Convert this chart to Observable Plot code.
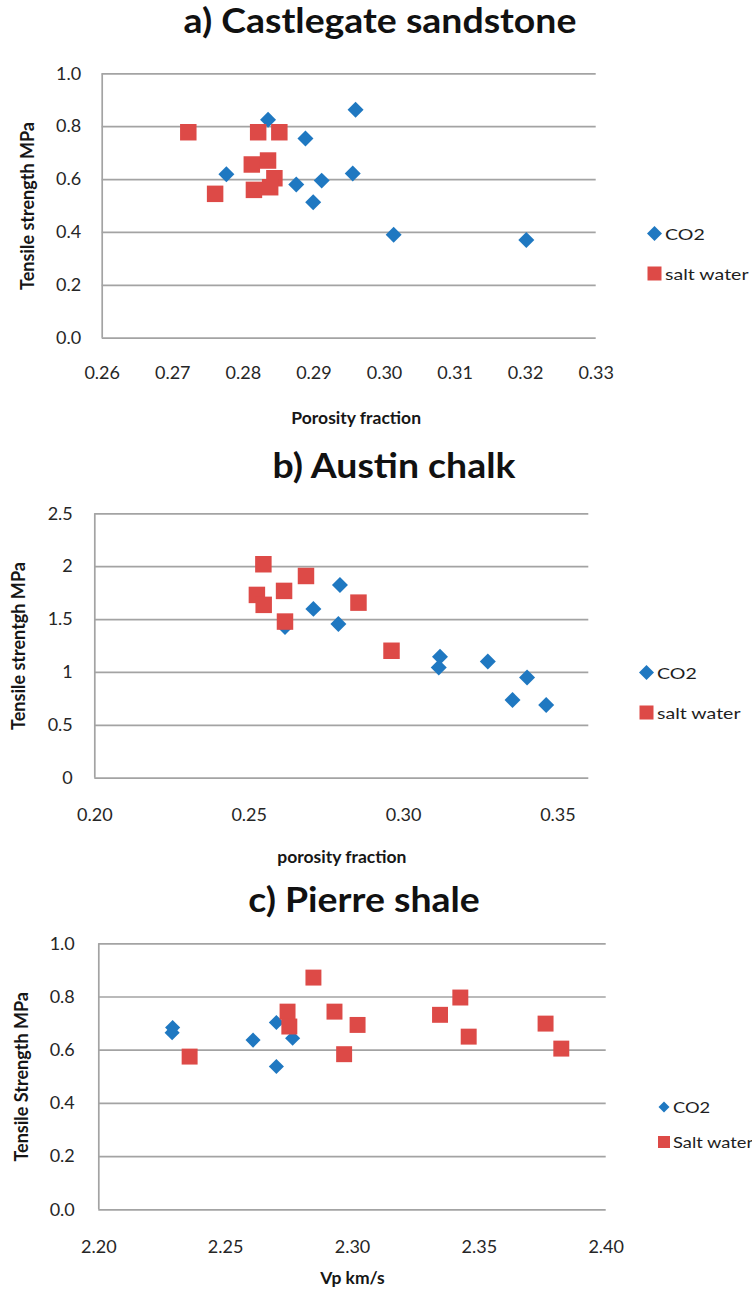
<!DOCTYPE html>
<html>
<head>
<meta charset="utf-8">
<script src="https://cdn.jsdelivr.net/npm/d3@7"></script>
<script src="https://cdn.jsdelivr.net/npm/@observablehq/plot@0.6"></script>
<style>
  body { margin: 0; background: #fff; }
  #page { position: relative; width: 752px; height: 1301px; background: #fff; overflow: hidden; font-family: Lato, "Open Sans", sans-serif; }
  .panel { position: absolute; left: 0; }
  .title { position: absolute; font-weight: bold; font-size: 34px; color: #111; white-space: nowrap; transform: translateX(-50%) scaleX(1.1); line-height: 1; }
  .legend { position: absolute; color: #1e1e1e; white-space: nowrap; }
  .legend .item { position: absolute; display: flex; align-items: center; }
  .legend svg { display: block; margin-right: 3px; }
  .legend span { display: inline-block; transform: scaleX(1.22); transform-origin: left center; }
</style>
</head>
<body>
<div id="page"></div>
<script>
// ---------- data ----------
// a) Castlegate sandstone
const aCO2Porosity  = [0.2835, 0.2959, 0.2888, 0.2776, 0.2875, 0.2911, 0.2899, 0.2955, 0.3013, 0.3201];
const aCO2Strength  = [0.826, 0.864, 0.755, 0.620, 0.581, 0.596, 0.514, 0.623, 0.391, 0.371];
const aSaltPorosity = [0.2722, 0.2821, 0.2851, 0.2812, 0.2835, 0.2844, 0.2760, 0.2815, 0.2838];
const aSaltStrength = [0.779, 0.779, 0.779, 0.657, 0.672, 0.605, 0.546, 0.561, 0.571];
const aXTicks = [0.26, 0.27, 0.28, 0.29, 0.30, 0.31, 0.32, 0.33];
const aYTicks = [0, 0.2, 0.4, 0.6, 0.8, 1.0];

// b) Austin chalk
const bCO2Porosity  = [0.2794, 0.2708, 0.2789, 0.2616, 0.3118, 0.3114, 0.3273, 0.3400, 0.3353, 0.3462];
const bCO2Strength  = [1.827, 1.601, 1.457, 1.43, 1.148, 1.047, 1.104, 0.953, 0.740, 0.692];
const bSaltPorosity = [0.2546, 0.2684, 0.2525, 0.2613, 0.2547, 0.2616, 0.2854, 0.2961];
const bSaltStrength = [2.023, 1.912, 1.733, 1.771, 1.639, 1.481, 1.660, 1.205];
const bXTicks = [0.20, 0.25, 0.30, 0.35];
const bYTicks = [0, 0.5, 1, 1.5, 2, 2.5];

// c) Pierre shale
const cCO2Vp        = [2.2291, 2.2289, 2.2608, 2.2700, 2.2764, 2.2700];
const cCO2Strength  = [0.685, 0.666, 0.638, 0.704, 0.645, 0.539];
const cSaltVp       = [2.2358, 2.2846, 2.2744, 2.2751, 2.2929, 2.3020, 2.2967, 2.3345, 2.3425, 2.3458, 2.3761, 2.3823];
const cSaltStrength = [0.576, 0.873, 0.745, 0.689, 0.745, 0.695, 0.585, 0.733, 0.798, 0.651, 0.700, 0.606];
const cXTicks = [2.20, 2.25, 2.30, 2.35, 2.40];
const cYTicks = [0, 0.2, 0.4, 0.6, 0.8, 1.0];

const seriesNames = ["CO2", "salt water"];
const BLUE = "#1f78c1", RED = "#dd4a47", GRID = "#a3a3a3";

const zip = (xs, ys) => xs.map((x, i) => ({x, y: ys[i]}));
const page = document.getElementById("page");

function addTitle(text, cx, top) {
  const d = document.createElement("div");
  d.className = "title"; d.textContent = text;
  d.style.left = cx + "px"; d.style.top = top + "px";
  page.appendChild(d);
}

function addLegend(items, x, y, gap, dSize, sSize, fontSize) {
  const lg = document.createElement("div");
  lg.className = "legend";
  lg.style.left = x + "px"; lg.style.top = y + "px"; lg.style.fontSize = fontSize + "px";
  items.forEach((it, i) => {
    const row = document.createElement("div");
    row.className = "item";
    row.style.top = (i * gap) + "px";
    const s = it.shape === "diamond" ? dSize : sSize;
    const h = dSize > sSize ? dSize : sSize;
    const svg = it.shape === "diamond"
      ? `<svg width="${h}" height="${h}"><polygon points="${h/2},${(h-s)/2} ${(h+s)/2},${h/2} ${h/2},${(h+s)/2} ${(h-s)/2},${h/2}" fill="${it.color}"/></svg>`
      : `<svg width="${h}" height="${h}"><rect x="${(h-s)/2}" y="${(h-s)/2}" width="${s}" height="${s}" fill="${it.color}"/></svg>`;
    row.innerHTML = svg + `<span>${it.label}</span>`;
    lg.appendChild(row);
  });
  page.appendChild(lg);
}

function panel(o) {
  const co2 = zip(o.co2X, o.co2Y), salt = zip(o.saltX, o.saltY);
  const chart = Plot.plot({
    width: 752, height: o.height,
    marginLeft: o.ml, marginRight: o.mr, marginTop: o.mt, marginBottom: o.mb,
    style: {fontFamily: "Lato, sans-serif", fontSize: "18px", color: "#262626", background: "transparent", overflow: "visible"},
    x: {domain: o.xDomain},
    y: {domain: o.yDomain},
    marks: [
      Plot.gridY(o.yTicks, {stroke: GRID, strokeOpacity: 1, strokeWidth: 1.7}),
      Plot.ruleX([o.xDomain[0]], {stroke: GRID, strokeWidth: 1.7}),
      Plot.axisX(o.xTicks, {tickSize: 0, tickPadding: o.xPad, tickFormat: o.xFmt, label: null, fontSize: 18}),
      Plot.axisY(o.yTicks, {tickSize: 0, tickPadding: o.yPad, tickFormat: o.yFmt, label: null, fontSize: 18}),
      Plot.dot(co2, {x: "x", y: "y", symbol: "diamond2", r: o.dR, fill: BLUE, stroke: null}),
      Plot.dot(salt, {x: "x", y: "y", symbol: "square", r: o.sR, fill: RED, stroke: null}),
      Plot.text([o.xLabel], {text: d => d, frameAnchor: "bottom", lineAnchor: "middle", dy: o.xLabelDy, dx: o.xLabelDx || 0, fontWeight: "bold", fontSize: 17.5, fill: "#161616"}),
      Plot.text([o.yLabel], {text: d => d, frameAnchor: "left", textAnchor: "middle", lineAnchor: "middle", dx: o.yLabelDx, rotate: -90, fontWeight: "bold", fontSize: 18, fill: "#161616"})
    ]
  });
  const wrap = document.createElement("div");
  wrap.className = "panel"; wrap.style.top = o.top + "px";
  wrap.appendChild(chart);
  page.appendChild(wrap);
}

const f2 = d3.format(".2f"), f1 = d3.format(".1f");

panel({
  top: 45, height: 380, ml: 101.7, mr: 156.3, mt: 28.3, mb: 87.3,
  xDomain: [0.26, 0.33], yDomain: [0, 1.0], xTicks: aXTicks, yTicks: aYTicks,
  xFmt: f2, yFmt: f1, xPad: 28, yPad: 21,
  co2X: aCO2Porosity, co2Y: aCO2Strength, saltX: aSaltPorosity, saltY: aSaltStrength,
  dR: 7.2, sR: 9.3,
  xLabel: "Porosity fraction", xLabelDy: 80, xLabelDx: 7,
  yLabel: "Tensile strength MPa", yLabelDx: -74
});
panel({
  top: 490, height: 390, ml: 94.3, mr: 163.7, mt: 23.3, mb: 102.3,
  xDomain: [0.20, 0.36], yDomain: [0, 2.5], xTicks: bXTicks, yTicks: bYTicks,
  xFmt: f2, yFmt: d => String(d), xPad: 30, yPad: 22,
  co2X: bCO2Porosity, co2Y: bCO2Strength, saltX: bSaltPorosity, saltY: bSaltStrength,
  dR: 7.2, sR: 9.3,
  xLabel: "porosity fraction", xLabelDy: 79,
  yLabel: "Tensile strentgh MPa", yLabelDx: -76
});
panel({
  top: 925, height: 376, ml: 98.3, mr: 146.3, mt: 18.3, mb: 91.7,
  xDomain: [2.20, 2.40], yDomain: [0, 1.0], xTicks: cXTicks, yTicks: cYTicks,
  xFmt: f2, yFmt: f1, xPad: 30, yPad: 24,
  co2X: cCO2Vp, co2Y: cCO2Strength, saltX: cSaltVp, saltY: cSaltStrength,
  dR: 6.8, sR: 9.0,
  xLabel: "Vp km/s", xLabelDy: 69,
  yLabel: "Tensile Strength MPa", yLabelDx: -77
});

addTitle("a) Castlegate sandstone", 380, 3);
addTitle("b) Austin chalk", 394, 448);
addTitle("c) Pierre shale", 364, 882);

addLegend([{shape: "diamond", color: BLUE, label: seriesNames[0]}, {shape: "square", color: RED, label: seriesNames[1]}], 647, 224, 39.5, 15, 14, 16);
addLegend([{shape: "diamond", color: BLUE, label: seriesNames[0]}, {shape: "square", color: RED, label: seriesNames[1]}], 639, 663, 39.5, 15, 14, 16);
addLegend([{shape: "diamond", color: BLUE, label: "CO2"}, {shape: "square", color: RED, label: "Salt water"}], 658, 1098, 34.5, 11, 12, 15);
</script>
</body>
</html>
